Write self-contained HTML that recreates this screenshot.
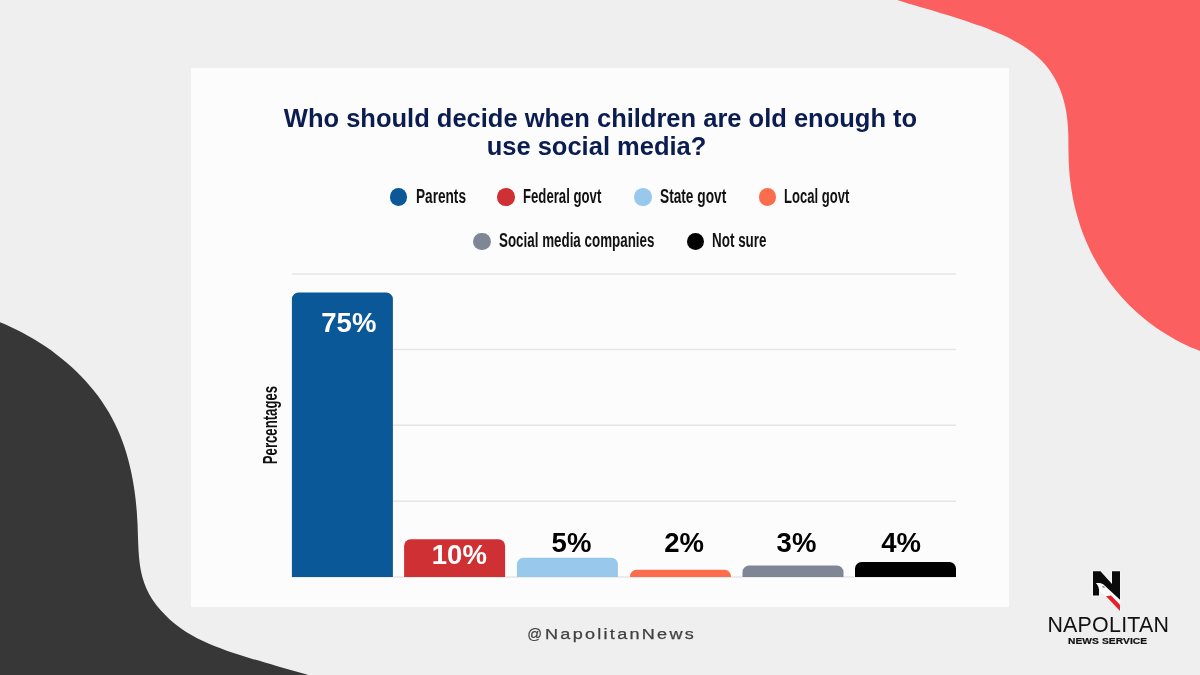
<!DOCTYPE html>
<html><head><meta charset="utf-8"><title>Chart</title>
<style>
*{margin:0;padding:0;box-sizing:border-box}
html,body{width:1200px;height:675px;overflow:hidden;background:#efefef;font-family:"Liberation Sans",sans-serif}
#stage{will-change:transform;position:relative;width:1200px;height:675px;overflow:hidden;background:#efefef}
#blobs{position:absolute;left:0;top:0}
#card{position:absolute;left:191.1px;top:67.6px;width:817.5px;height:539.7px;background:#fcfcfc}
.abs{position:absolute}
.title{position:absolute;left:0;width:1200px;text-align:center;font-weight:bold;font-size:25.5px;line-height:29px;color:#0b1d50;white-space:nowrap}
.dot{position:absolute;width:17.6px;height:17.6px;border-radius:50%}
.lg{position:absolute;font-size:19.6px;font-weight:bold;line-height:22px;color:#111;white-space:nowrap;transform-origin:0 50%;}
.val{position:absolute;font-weight:bold;font-size:27.5px;line-height:26px;white-space:nowrap;color:#000}
</style></head><body>
<div id="stage">
<svg id="blobs" width="1200" height="675" viewBox="0 0 1200 675">
<path fill="#373737" d="M-24.7,314.0C-22.7,314.6 -16.7,316.3 -12.7,317.7C-8.6,319.0 -4.6,320.5 -0.6,322.1C3.3,323.7 7.3,325.4 11.3,327.2C15.2,329.0 19.1,331.0 23.0,333.0C26.8,335.1 30.7,337.2 34.5,339.5C38.2,341.8 41.9,344.2 45.6,346.6C49.3,349.1 52.9,351.7 56.4,354.4C59.9,357.0 63.3,359.8 66.7,362.7C70.0,365.6 73.3,368.5 76.4,371.6C79.6,374.6 82.7,377.8 85.6,381.0C88.5,384.2 91.4,387.6 94.1,391.0C96.8,394.4 99.4,397.8 101.9,401.4C104.3,405.0 106.7,408.6 108.8,412.3C111.0,416.0 113.0,419.8 114.9,423.7C116.8,427.5 118.6,431.4 120.2,435.4C121.8,439.4 123.3,443.4 124.6,447.5C126.0,451.6 127.2,455.7 128.3,459.9C129.4,464.1 130.4,468.3 131.3,472.6C132.2,476.9 133.0,481.2 133.7,485.5C134.4,489.8 135.0,494.2 135.5,498.5C136.0,502.9 136.4,507.3 136.8,511.7C137.1,516.1 137.3,520.5 137.6,525.0C137.8,529.4 137.8,533.8 138.0,538.2C138.2,542.6 138.3,547.0 138.6,551.4C138.9,555.7 139.2,560.0 139.8,564.3C140.4,568.5 141.1,572.7 142.3,576.7C143.4,580.8 144.7,584.8 146.5,588.7C148.2,592.5 150.3,596.3 152.7,599.9C155.1,603.5 157.8,607.0 160.7,610.3C163.6,613.6 166.8,616.7 170.0,619.7C173.3,622.6 176.8,625.4 180.4,627.9C183.9,630.5 187.6,632.8 191.4,635.0C195.2,637.2 199.1,639.2 203.0,641.0C206.9,642.9 211.0,644.6 215.0,646.3C219.1,647.9 223.2,649.4 227.4,650.9C231.5,652.3 235.7,653.7 239.9,655.0C244.1,656.3 248.2,657.6 252.4,658.9C256.6,660.1 260.8,661.3 264.9,662.6C269.1,663.8 273.2,665.0 277.4,666.2C281.5,667.4 285.7,668.6 289.8,669.8C294.0,671.0 298.1,672.1 302.3,673.3C306.5,674.5 310.6,675.8 314.8,677.0C319.0,678.2 323.2,679.4 327.4,680.7C331.6,681.9 337.9,683.9 340.0,684.5L-30,700Z"/>
<path fill="#fb5f60" d="M869.9,-9.1C871.8,-8.5 877.5,-6.5 881.2,-5.2C885.0,-3.9 888.7,-2.7 892.4,-1.5C896.1,-0.3 899.8,0.8 903.5,2.0C907.1,3.1 910.8,4.2 914.5,5.3C918.1,6.4 921.8,7.5 925.4,8.6C929.1,9.6 932.7,10.7 936.4,11.8C940.0,12.9 943.7,14.0 947.4,15.1C951.0,16.3 954.7,17.4 958.4,18.6C962.0,19.8 965.7,21.0 969.4,22.2C973.1,23.5 976.9,24.8 980.6,26.1C984.3,27.5 988.1,28.9 991.8,30.4C995.5,31.9 999.2,33.4 1002.8,35.1C1006.5,36.8 1010.0,38.5 1013.5,40.4C1017.0,42.2 1020.4,44.2 1023.7,46.3C1026.9,48.4 1030.1,50.6 1033.1,53.0C1036.0,55.4 1038.9,57.9 1041.5,60.6C1044.2,63.3 1046.6,66.1 1048.9,69.2C1051.1,72.2 1053.2,75.4 1055.0,78.7C1056.8,82.1 1058.5,85.5 1059.9,89.1C1061.3,92.6 1062.6,96.3 1063.6,100.0C1064.7,103.8 1065.5,107.6 1066.2,111.4C1066.9,115.2 1067.3,119.1 1067.6,122.9C1068.0,126.8 1068.1,130.7 1068.3,134.6C1068.4,138.4 1068.4,142.4 1068.4,146.3C1068.5,150.2 1068.5,154.1 1068.6,158.0C1068.7,161.9 1068.9,165.8 1069.2,169.7C1069.4,173.6 1069.8,177.4 1070.3,181.3C1070.8,185.2 1071.3,189.0 1072.0,192.9C1072.6,196.7 1073.4,200.5 1074.2,204.3C1075.1,208.1 1076.0,211.9 1077.1,215.6C1078.1,219.3 1079.3,223.0 1080.5,226.7C1081.8,230.3 1083.1,234.0 1084.5,237.6C1086.0,241.1 1087.5,244.7 1089.2,248.2C1090.8,251.7 1092.5,255.1 1094.4,258.5C1096.2,261.9 1098.2,265.3 1100.2,268.5C1102.3,271.8 1104.4,275.1 1106.6,278.2C1108.9,281.4 1111.2,284.5 1113.6,287.5C1116.0,290.5 1118.5,293.5 1121.1,296.4C1123.7,299.3 1126.4,302.1 1129.1,304.9C1131.8,307.6 1134.7,310.3 1137.6,312.9C1140.5,315.4 1143.4,317.9 1146.5,320.4C1149.5,322.8 1152.6,325.1 1155.8,327.4C1159.0,329.6 1162.2,331.7 1165.5,333.8C1168.8,335.8 1172.1,337.8 1175.5,339.7C1179.0,341.5 1182.4,343.3 1185.9,344.9C1189.4,346.6 1193.0,348.1 1196.6,349.6C1200.2,351.0 1203.9,352.3 1207.6,353.5C1211.3,354.7 1215.0,355.8 1218.8,356.8C1222.6,357.8 1228.3,358.9 1230.2,359.4L1235,-10Z"/>
</svg>
<div id="card"></div>

<div class="title" style="top:103.9px;left:0.5px">Who should decide when children are old enough to</div>
<div class="title" style="top:131.9px;left:-3.5px">use social media?</div>

<!-- legend -->
<div class="dot" style="left:389.8px;top:188.2px;background:#0b5899"></div>
<div class="lg" id="l1" style="left:415.5px;top:184.6px;transform:scaleX(0.695)">Parents</div>
<div class="dot" style="left:497.2px;top:188.2px;background:#cf3033"></div>
<div class="lg" id="l2" style="left:523.2px;top:184.6px;transform:scaleX(0.672)">Federal govt</div>
<div class="dot" style="left:634.2px;top:188.2px;background:#99c8ed"></div>
<div class="lg" id="l3" style="left:660.3px;top:184.6px;transform:scaleX(0.699)">State govt</div>
<div class="dot" style="left:758.8px;top:188.2px;background:#fb6d4c"></div>
<div class="lg" id="l4" style="left:784.4px;top:184.6px;transform:scaleX(0.666)">Local govt</div>
<div class="dot" style="left:473.2px;top:232.7px;background:#7f8796"></div>
<div class="lg" id="l5" style="left:498.9px;top:229.2px;transform:scaleX(0.683)">Social media companies</div>
<div class="dot" style="left:686.8px;top:232.7px;background:#000"></div>
<div class="lg" id="l6" style="left:712.2px;top:229.2px;transform:scaleX(0.686)">Not sure</div>

<!-- grid + bars -->
<svg class="abs" style="left:0;top:0" width="1200" height="675" viewBox="0 0 1200 675">
<rect x="291.9" y="273.25" width="664.2" height="1.5" fill="#e5e5e5"/>
<rect x="291.9" y="348.75" width="664.2" height="1.5" fill="#e5e5e5"/>
<rect x="291.9" y="424.45" width="664.2" height="1.5" fill="#e5e5e5"/>
<rect x="291.9" y="500.45" width="664.2" height="1.5" fill="#e5e5e5"/>
<rect x="291.9" y="576.25" width="664.2" height="1.5" fill="#e5e5e5"/>
<path fill="#0b5899" d="M291.9,577.0V299.0A6.5,6.5 0 0 1 298.4,292.5H386.4A6.5,6.5 0 0 1 392.9,299.0V577.0Z"/>
<path fill="#cf3033" d="M404.1,577.0V545.8A6.5,6.5 0 0 1 410.6,539.3H498.6A6.5,6.5 0 0 1 505.1,545.8V577.0Z"/>
<path fill="#99c8ed" d="M516.9,577.0V564.3A6.5,6.5 0 0 1 523.4,557.8H611.4A6.5,6.5 0 0 1 617.9,564.3V577.0Z"/>
<path fill="#fb6d4c" d="M630.0,577.0V576.3A6.5,6.5 0 0 1 636.5,569.8H724.5A6.5,6.5 0 0 1 731.0,576.3V577.0Z"/>
<path fill="#7f8796" d="M742.5,577.0V572.1A6.5,6.5 0 0 1 749.0,565.6H837.0A6.5,6.5 0 0 1 843.5,572.1V577.0Z"/>
<path fill="#000" d="M855.0,577.0V568.6A6.5,6.5 0 0 1 861.5,562.1H949.5A6.5,6.5 0 0 1 956.0,568.6V577.0Z"/>
</svg>

<!-- values -->
<div class="val" id="v1" style="left:321.3px;top:309.6px;color:#fff">75%</div>
<div class="val" id="v2" style="left:431.8px;top:541.8px;color:#fff">10%</div>
<div class="val" id="v3" style="left:551.6px;top:529.5px">5%</div>
<div class="val" id="v4" style="left:664.2px;top:529.5px">2%</div>
<div class="val" id="v5" style="left:776.6px;top:529.5px">3%</div>
<div class="val" id="v6" style="left:881.2px;top:529.5px">4%</div>

<!-- y label -->
<div class="abs" id="yl" style="left:270px;top:426px;width:0;height:0"><div id="yli" style="position:absolute;left:-60px;top:-12px;width:120px;height:24px;line-height:24px;text-align:center;font-size:20.7px;font-weight:bold;color:#111;white-space:nowrap;transform:rotate(-90deg) scaleX(.637)">Percentages</div></div>

<!-- footer -->
<div class="abs" id="ft1" style="left:527.3px;top:624.2px;-webkit-text-stroke:.2px #404040;font-size:14.6px;line-height:20px;color:#404040;white-space:nowrap">@</div>
<div class="abs" id="ft" style="left:544.8px;top:624px;font-size:15.3px;line-height:20px;letter-spacing:1.93px;-webkit-text-stroke:.25px #404040;color:#404040;white-space:nowrap;transform-origin:0 50%;transform:scaleX(1.18)">NapolitanNews</div>

<!-- logo -->
<svg class="abs" id="logo" style="left:1085px;top:565px" width="45" height="50" viewBox="1085 565 45 50">
<g fill="#f7f7f7" stroke="#f7f7f7" stroke-width="1.6" stroke-linejoin="round">
<path d="M1093,571.3 L1100.5,571.3 L1112,584 L1112,571.3 L1120,571.3 L1120,599.8 L1120,611 L1106,596.2 L1099,589.4 L1099,595.4 L1093,595.4 Z"/>
</g>
<path fill="#fafafa" d="M1095.7,583.3 L1103.5,584.4 L1120,599.8 L1120,604.8 L1111,595.5 L1106,596.2 L1099,589.4 C1098.6,586.6 1097.6,584.6 1095.7,583.3 Z"/>
<path fill="#0a0a0a" d="M1093,571.3 L1100.5,571.3 L1112,584 L1112,571.3 L1120,571.3 L1120,599.8 L1103.5,584.4 C1101,583 1098,582.6 1095.7,583.3 C1097.6,584.6 1098.6,586.6 1099,589.4 L1099,595.4 L1093,595.4 Z"/>
<path fill="#6a6a6a" d="M1102,586 L1104.2,586.5 L1105,587.8 L1102.9,587.4 Z"/>
<path fill="#e8202a" d="M1106,596.2 L1111,595.5 L1120,604.8 L1120,611 Z"/>
</svg>
<div class="abs" id="nap" style="left:1047.4px;top:612.6px;font-size:21.4px;line-height:24px;letter-spacing:.25px;color:#111;white-space:nowrap">NAPOLITAN</div>
<div class="abs" id="ns" style="left:1067.8px;top:634.6px;font-size:9.3px;line-height:12px;font-weight:bold;letter-spacing:.07px;-webkit-text-stroke:.2px #111;color:#111;white-space:nowrap;transform-origin:0 50%;transform:scaleX(1.1)">NEWS SERVICE</div>
</div>
</body></html>
